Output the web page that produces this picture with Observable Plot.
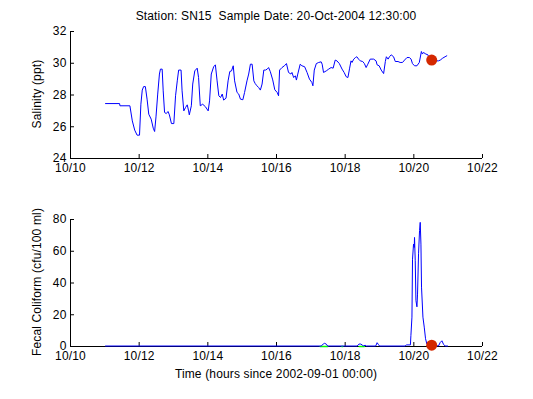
<!DOCTYPE html>
<html><head><meta charset="utf-8">
<script src="https://cdn.jsdelivr.net/npm/d3@7"></script>
<script src="https://cdn.jsdelivr.net/npm/@observablehq/plot@0.6"></script>
<style>
body{margin:0;background:#fff;}
#wrap{position:relative;width:533px;height:399px;background:#fff;font-family:"Liberation Sans",Arial,sans-serif;font-size:12px;letter-spacing:0.15px;color:#000;overflow:hidden;}
.lbl{position:absolute;white-space:pre;line-height:1;}
.panel{position:absolute;left:0;}
.panel text{letter-spacing:0.15px;}
</style></head><body><div id="wrap"></div>
<script>
const titleText = "Station: SN15  Sample Date: 20-Oct-2004 12:30:00";
const salLabel = "Salinity (ppt)";
const fcLabel = "Fecal Coliform (cfu/100 ml)";
const xLabel = "Time (hours since 2002-09-01 00:00)";

const xDomain = [10, 22];
const xTicks = [10, 12, 14, 16, 18, 20, 22];
const salDomain = [24, 32];
const salTicks = [24, 26, 28, 30, 32];
const fcDomain = [0, 80];
const fcTicks = [0, 20, 40, 60, 80];

// Salinity time series (day of October, ppt)
const salDays = [11.02,11.43,11.44,11.73,11.80,11.87,11.94,12.01,12.05,12.09,12.13,12.18,12.23,12.28,12.35,12.41,12.45,12.49,12.54,12.59,12.62,12.67,12.70,12.74,12.79,12.84,12.88,12.94,13.01,13.06,13.11,13.15,13.22,13.25,13.30,13.35,13.40,13.44,13.46,13.52,13.56,13.62,13.69,13.73,13.78,13.85,13.93,14.01,14.05,14.10,14.17,14.22,14.27,14.32,14.37,14.42,14.46,14.53,14.59,14.64,14.69,14.74,14.78,14.85,14.90,14.95,15.02,15.07,15.14,15.19,15.24,15.29,15.34,15.38,15.43,15.48,15.53,15.58,15.63,15.68,15.73,15.77,15.82,15.89,15.95,16.02,16.06,16.09,16.16,16.23,16.29,16.35,16.42,16.45,16.50,16.55,16.58,16.62,16.69,16.74,16.82,16.89,16.96,17.03,17.06,17.10,17.16,17.23,17.30,17.33,17.37,17.45,17.52,17.59,17.65,17.71,17.76,17.83,17.91,17.97,18.03,18.08,18.13,18.17,18.20,18.25,18.30,18.34,18.39,18.44,18.51,18.56,18.61,18.66,18.73,18.83,18.90,18.93,18.99,19.05,19.12,19.17,19.20,19.25,19.29,19.34,19.41,19.46,19.54,19.60,19.67,19.73,19.80,19.87,19.92,19.96,20.02,20.09,20.16,20.22,20.25,20.28,20.35,20.41,20.45,20.51,20.57,20.64,20.72,20.77,20.84,20.91,20.96];
const salValues = [27.46,27.46,27.32,27.32,26.37,25.79,25.47,25.47,27.42,28.31,28.53,28.53,27.74,26.79,26.48,25.91,25.70,26.62,28.06,29.32,29.63,29.63,28.26,26.90,26.83,26.96,26.75,26.20,26.20,27.95,28.89,29.57,29.57,28.26,27.00,27.21,27.38,27.00,26.75,27.32,28.69,29.52,29.69,29.10,27.32,27.42,27.26,27.00,27.63,29.32,29.78,29.90,28.89,27.95,27.84,28.06,27.68,27.80,28.89,29.48,29.52,29.84,28.89,28.16,28.06,27.74,27.70,28.16,28.89,29.32,29.94,29.94,28.89,28.72,28.58,28.47,28.31,28.69,29.57,29.57,29.63,29.73,29.47,28.95,28.33,28.16,27.95,29.57,29.73,29.84,29.98,29.42,29.32,29.42,29.10,29.21,28.94,29.32,29.94,29.84,29.78,29.42,29.00,28.79,28.58,29.57,29.98,30.05,30.09,29.94,29.42,29.52,29.63,29.73,29.69,30.20,30.15,29.98,29.63,29.42,29.15,29.10,29.69,30.15,30.05,30.26,30.36,30.41,30.26,30.15,30.11,29.98,29.73,29.94,30.26,30.26,30.15,29.90,29.84,29.57,29.35,30.11,30.41,30.26,30.41,30.53,30.41,30.11,30.11,30.05,30.05,30.20,30.36,30.36,30.26,29.98,29.84,29.84,30.05,30.74,30.58,30.68,30.58,30.53,30.32,30.20,30.20,30.15,30.15,30.20,30.32,30.41,30.47];

// Fecal coliform time series (day of October, cfu/100 ml)
const fcDays = [11.02,17.30,17.36,17.40,17.45,17.49,18.35,18.40,18.44,18.50,18.53,18.58,18.62,18.89,18.93,18.97,19.00,19.75,19.78,19.90,19.915,19.945,19.962,19.991,20.012,20.020,20.041,20.061,20.090,20.108,20.137,20.166,20.186,20.207,20.224,20.265,20.303,20.341,20.381,20.428,20.719,20.768,20.818,20.864,20.914,20.981];
const fcValues = [0.3,0.3,1.5,2.0,1.5,0.3,0.3,1.5,1.6,1.0,0.3,0.8,0.3,0.3,2.4,1.2,0.3,0.3,1.0,1.0,7,18.5,55,64.5,62.4,68.7,54,29,25,33,58.4,73,78.2,64.5,37.4,18.5,12.2,4.9,1.4,0.4,0.4,2.5,3.6,1.4,0.3,0.3];

// Second (green) series visible near the axis
const greenDays = [17.27,17.49,17.90,17.93,18.41,18.56];
const greenValues = [0,0,0,0,0,0];
const greenSeg = [1,1,2,2,3,3];

// Sample marker
const sampleDay = [20.52];
const sampleSal = [30.2];
const sampleFc = [0.8];

const sal = salDays.map((d, i) => ({t: d, v: salValues[i]}));
const fc = fcDays.map((d, i) => ({t: d, v: fcValues[i]}));
const green = greenDays.map((d, i) => ({t: d, v: greenValues[i], s: greenSeg[i]}));
const sSal = sampleDay.map((d, i) => ({t: d, v: sampleSal[i]}));
const sFc = sampleDay.map((d, i) => ({t: d, v: sampleFc[i]}));

const wrap = document.getElementById("wrap");
const fmt = d => "10/" + d;
const style = {fontFamily: "'Liberation Sans', Arial, sans-serif", fontSize: "12px", color: "#000", background: "transparent", overflow: "visible"};

function panel(top, height, mTop, mBottom, domainY, ticksY, marks) {
  const p = Plot.plot({
    width: 533, height, marginLeft: 70, marginRight: 51, marginTop: mTop, marginBottom: mBottom,
    style,
    x: {domain: xDomain},
    y: {domain: domainY},
    marks: [
      Plot.ruleY([domainY[0]], {stroke: "#000"}),
      Plot.ruleX([xDomain[0]], {stroke: "#000"}),
      Plot.axisX(xTicks, {tickSize: -4, tickPadding: 9, tickFormat: fmt, label: null, stroke: "#000"}),
      Plot.axisY(ticksY, {tickSize: -4, tickPadding: 8, label: null, stroke: "#000"}),
      ...marks
    ]
  });
  p.classList.add("panel");
  p.style.top = top + "px";
  wrap.appendChild(p);
}

panel(0, 180, 31, 22, salDomain, salTicks, [
  Plot.line(sal, {x: "t", y: "v", stroke: "#0000ff", strokeWidth: 1}),
  Plot.dot(sSal, {x: "t", y: "v", r: 5.5, fill: "#d42800", stroke: "none"})
]);

panel(190, 180, 29, 24, fcDomain, fcTicks, [
  Plot.line(green, {x: "t", y: "v", z: "s", stroke: "#00ff00", strokeWidth: 1.5}),
  Plot.line(fc, {x: "t", y: "v", stroke: "#0000ff", strokeWidth: 1}),
  Plot.dot(sFc, {x: "t", y: "v", r: 5.5, fill: "#d42800", stroke: "none"})
]);

function label(text, x, y, rotate) {
  const el = document.createElement("div");
  el.className = "lbl";
  el.textContent = text;
  el.style.left = x + "px";
  el.style.top = y + "px";
  el.style.transform = "translate(-50%,-50%)" + (rotate ? " rotate(-90deg)" : "");
  wrap.appendChild(el);
}
label(titleText, 276, 16);
label(salLabel, 37, 94, true);
label(fcLabel, 37, 282, true);
label(xLabel, 276, 374);
</script></body></html>
